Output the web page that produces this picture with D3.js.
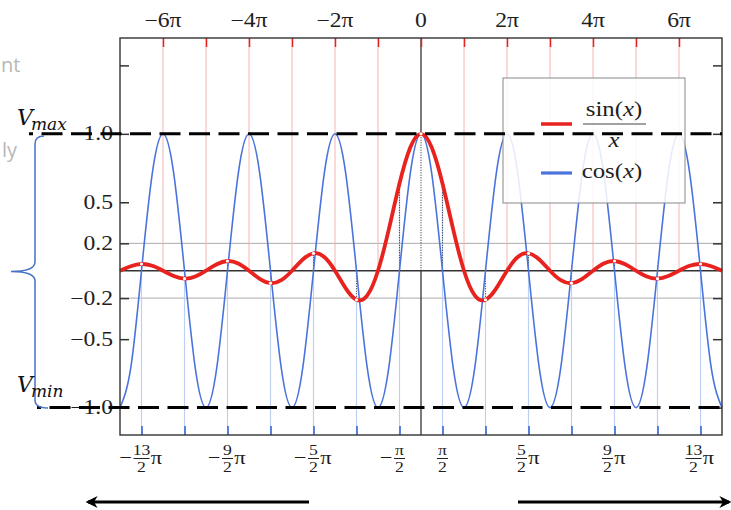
<!DOCTYPE html>
<html lang="en">
<head>
<meta charset="UTF-8">
<title>sin(x)/x and cos(x)</title>
<style>
  body { margin: 0; background: #fff; }
  text { font-family: "Liberation Serif", "DejaVu Serif", serif; fill: #1e1e1e; }
</style>
</head>
<body>
<svg id="chart" width="731" height="510"></svg>
<script src="https://d3js.org/d3.v7.min.js"></script>
<script>
// sample positions, in quarters of pi (-7pi .. 7pi)
const quarterSteps = d3.range(-28, 29);

// cos(x) read at every quarter pi
const cosValues = [
  -1, -0.71, 0, 0.71, 1, 0.71, 0, -0.71,
  -1, -0.71, 0, 0.71, 1, 0.71, 0, -0.71,
  -1, -0.71, 0, 0.71, 1, 0.71, 0, -0.71,
  -1, -0.71, 0, 0.71, 1, 0.71, 0, -0.71,
  -1, -0.71, 0, 0.71, 1, 0.71, 0, -0.71,
  -1, -0.71, 0, 0.71, 1, 0.71, 0, -0.71,
  -1, -0.71, 0, 0.71, 1, 0.71, 0, -0.71,
  -1
];

// sin(x)/x read at every quarter pi
const sincValues = [
  0, 0.033, 0.049, 0.036,
  0, -0.039, -0.058, -0.043,
  0, 0.047, 0.071, 0.053,
  0, -0.060, -0.091, -0.069,
  0, 0.082, 0.127, 0.100,
  0, -0.129, -0.212, -0.180,
  0, 0.300, 0.637, 0.900,
  1,
  0.900, 0.637, 0.300, 0,
  -0.180, -0.212, -0.129, 0,
  0.100, 0.127, 0.082, 0,
  -0.069, -0.091, -0.060, 0,
  0.053, 0.071, 0.047, 0,
  -0.043, -0.058, -0.039, 0,
  0.036, 0.049, 0.033, 0
];

// top axis: ticks at every pi, labels at even multiples (units of pi)
const piTicks = [-6, -5, -4, -3, -2, -1, 0, 1, 2, 3, 4, 5, 6];
const topLabelPos = [-6, -4, -2, 0, 2, 4, 6];
const topLabels = ["\u22126\u03c0", "\u22124\u03c0", "\u22122\u03c0", "0", "2\u03c0", "4\u03c0", "6\u03c0"];

// bottom axis: ticks at half-integer multiples of pi
const halfPiTicks = [-6.5, -5.5, -4.5, -3.5, -2.5, -1.5, -0.5, 0.5, 1.5, 2.5, 3.5, 4.5, 5.5, 6.5];
const bottomLabelPos = [-6.5, -4.5, -2.5, -0.5, 0.5, 2.5, 4.5, 6.5];
const bottomLabelNum = ["13", "9", "5", "\u03c0", "\u03c0", "5", "9", "13"];

// y axis
const yTicks = [1.5, 1.0, 0.5, 0.2, -0.2, -0.5, -1.0];
const yTickLabels = ["", "1.0", "0.5", "0.2", "\u22120.2", "\u22120.5", "\u22121.0"];
const gridLevels = [0.2, -0.2];
const limitLevels = [1, -1];

const RED = "#e8231f", BLUE = "#4a74dc";
const pl = 120, pr = 722, pt = 38, pb = 435;
const sx = 1.18; // glyphs in the picture are a little wide

const svg = d3.select("#chart");
const x = d3.scaleLinear().domain([-7, 7]).range([pl, pr]);
const y = d3.scaleLinear().domain([-1.2, 1.7]).range([pb, pt]);

function wideText(g, px, py, txt, size, anchor) {
  return g.append("text")
    .attr("transform", "translate(" + px + "," + py + ") scale(" + sx + ",1)")
    .attr("text-anchor", anchor || "middle")
    .attr("font-size", size)
    .text(txt);
}

const sincAt = h => sincValues[quarterSteps.indexOf(h * 4)];

// grid
const grid = svg.append("g");
grid.selectAll(".hg").data(gridLevels).enter().append("line")
  .attr("x1", pl).attr("x2", pr)
  .attr("y1", d => y(d)).attr("y2", d => y(d))
  .attr("stroke", "#aaa").attr("stroke-width", 1);

grid.selectAll(".rv").data(piTicks.filter(d => d !== 0)).enter().append("line")
  .attr("x1", d => x(d)).attr("x2", d => x(d))
  .attr("y1", pt).attr("y2", y(0))
  .attr("stroke", "#f3b4b2").attr("stroke-width", 1);

grid.selectAll(".bv").data(halfPiTicks).enter().append("line")
  .attr("x1", d => x(d)).attr("x2", d => x(d))
  .attr("y1", pb).attr("y2", d => y(sincAt(d)))
  .attr("stroke", "#bcd0f6").attr("stroke-width", 1.2);

grid.append("line")
  .attr("x1", pl).attr("x2", pr).attr("y1", y(0)).attr("y2", y(0))
  .attr("stroke", "#333").attr("stroke-width", 1.5);
grid.append("line")
  .attr("x1", x(0)).attr("x2", x(0)).attr("y1", pt).attr("y2", y(1))
  .attr("stroke", "#333").attr("stroke-width", 1.3);
grid.append("line")
  .attr("x1", x(0)).attr("x2", x(0)).attr("y1", y(0)).attr("y2", pb)
  .attr("stroke", "#333").attr("stroke-width", 1.3);

// dotted drops from the sinc curve to zero
grid.selectAll(".dot").data(halfPiTicks.concat([0])).enter().append("line")
  .attr("x1", d => x(d)).attr("x2", d => x(d))
  .attr("y1", y(0)).attr("y2", d => y(sincAt(d)))
  .attr("stroke", "#333").attr("stroke-width", 1.1).attr("stroke-dasharray", "1,1.5");

// curves
const line = d3.line()
  .x((d, i) => x(quarterSteps[i] / 4))
  .y(d => y(d))
  .curve(d3.curveNatural);

svg.append("path").datum(cosValues)
  .attr("d", line).attr("fill", "none")
  .attr("stroke", BLUE).attr("stroke-width", 1.6);

svg.append("path").datum(sincValues)
  .attr("d", line).attr("fill", "none")
  .attr("stroke", RED).attr("stroke-width", 3.8);

svg.append("g").selectAll("circle")
  .data(halfPiTicks.filter(d => Math.abs(d) > 1).concat([0])).enter().append("circle")
  .attr("cx", d => x(d)).attr("cy", d => y(sincAt(d)))
  .attr("r", 1.6).attr("fill", "#fff");

// axes (ticks point inward)
const topAxis = svg.append("g").attr("transform", "translate(0," + pt + ")")
  .call(d3.axisTop(x).tickValues(piTicks).tickSize(-9).tickFormat(""));
topAxis.selectAll("line").attr("stroke", RED).attr("stroke-width", 1.5);

const bottomAxis = svg.append("g").attr("transform", "translate(0," + pb + ")")
  .call(d3.axisBottom(x).tickValues(halfPiTicks).tickSize(-9).tickFormat(""));
bottomAxis.selectAll("line").attr("stroke", BLUE).attr("stroke-width", 1.8);

const leftAxis = svg.append("g").attr("transform", "translate(" + pl + ",0)")
  .call(d3.axisLeft(y).tickValues(yTicks).tickSize(-9).tickFormat(""));
const rightAxis = svg.append("g").attr("transform", "translate(" + pr + ",0)")
  .call(d3.axisRight(y).tickValues(yTicks).tickSize(-9).tickFormat(""));
[topAxis, bottomAxis, leftAxis, rightAxis].forEach(a => a.select(".domain").remove());
[leftAxis, rightAxis].forEach(a => a.selectAll("line").attr("stroke", "#333").attr("stroke-width", 1.5));

svg.append("rect")
  .attr("x", pl).attr("y", pt).attr("width", pr - pl).attr("height", pb - pt)
  .attr("fill", "none").attr("stroke", "#333").attr("stroke-width", 1.4);

// tick labels
const labels = svg.append("g");
topLabelPos.forEach((p, i) => wideText(labels, x(p), 27, topLabels[i], 20));
yTicks.forEach((v, i) => {
  if (yTickLabels[i]) wideText(labels, 113, y(v) + 6.5, yTickLabels[i], 20, "end");
});

bottomLabelPos.forEach((p, i) => {
  const num = bottomLabelNum[i];
  const neg = p < 0, hasPi = num !== "\u03c0";
  const fw = num.length > 1 ? 14 : 9;
  const total = (neg ? 14 : 0) + fw + (hasPi ? 14 : 0);
  let fc = hasPi ? x(p) - total / 2 + (neg ? 14 : 0) + fw / 2 : x(p);
  const g = labels.append("g");
  if (neg) wideText(g, fc - fw / 2 - 9, 464, "\u2212", 19);
  wideText(g, fc, 455, num, 15);
  g.append("line").attr("x1", fc - fw / 2 - 1).attr("x2", fc + fw / 2 + 1)
    .attr("y1", 458.5).attr("y2", 458.5).attr("stroke", "#222").attr("stroke-width", 1);
  wideText(g, fc, 472, "2", 15);
  if (hasPi) wideText(g, fc + fw / 2 + 8, 464, "\u03c0", 19);
});

// legend
const lg = svg.append("g");
lg.append("rect").attr("x", 503).attr("y", 78).attr("width", 182).attr("height", 125)
  .attr("fill", "#fff").attr("fill-opacity", 0.86).attr("stroke", "#888").attr("stroke-width", 1);
lg.append("line").attr("x1", 541).attr("x2", 572).attr("y1", 124).attr("y2", 124)
  .attr("stroke", RED).attr("stroke-width", 3.5);
lg.append("line").attr("x1", 541).attr("x2", 572).attr("y1", 173).attr("y2", 173)
  .attr("stroke", BLUE).attr("stroke-width", 3.2);
const sinT = lg.append("text")
  .attr("transform", "translate(614,116) scale(" + sx + ",1)")
  .attr("text-anchor", "middle").attr("font-size", 21);
sinT.append("tspan").text("sin(");
sinT.append("tspan").attr("font-style", "italic").text("x");
sinT.append("tspan").text(")");
lg.append("line").attr("x1", 583).attr("x2", 646).attr("y1", 124).attr("y2", 124)
  .attr("stroke", "#444").attr("stroke-width", 1);
wideText(lg, 614, 147, "x", 21).attr("font-style", "italic");
const cosT = lg.append("text")
  .attr("transform", "translate(612,178) scale(" + sx + ",1)")
  .attr("text-anchor", "middle").attr("font-size", 21);
cosT.append("tspan").text("cos(");
cosT.append("tspan").attr("font-style", "italic").text("x");
cosT.append("tspan").text(")");

// Vmax / Vmin limit lines
svg.selectAll(".lim").data(limitLevels).enter().append("line")
  .attr("x1", d => d > 0 ? 29 : 37).attr("x2", pr)
  .attr("y1", d => y(d)).attr("y2", d => y(d))
  .attr("stroke", "#000").attr("stroke-width", 3)
  .attr("stroke-dasharray", "21,8.5").attr("stroke-dashoffset", 17);

// brace
svg.append("path")
  .attr("d", "M44,136 Q35,136 35,144 L35,262 Q35,271.5 11,271.5 Q35,271.5 35,281 L35,400 Q35,408 48,408")
  .attr("fill", "none").attr("stroke", "#4472c4").attr("stroke-width", 1.5);

function vLabel(px, py, sub) {
  const t = svg.append("text").attr("x", px).attr("y", py)
    .style("font-family", "'DejaVu Serif', serif").attr("font-style", "italic")
    .attr("font-size", 22).style("fill", "#111");
  t.append("tspan").text("V");
  t.append("tspan").attr("font-size", 17).attr("dy", 5).attr("dx", -2).text(sub);
}
vLabel(17, 125, "max");
vLabel(17, 392, "min");

// faded text at the page edge
svg.append("text").attr("x", 1).attr("y", 72)
  .style("font-family", "'Open Sans', sans-serif").style("fill", "#b8b8b8").attr("font-size", 20).text("nt");
svg.append("text").attr("x", 2).attr("y", 157)
  .style("font-family", "'Open Sans', sans-serif").style("fill", "#b8b8b8").attr("font-size", 20).text("ly");

// arrows
const defs = svg.append("defs");
defs.append("marker").attr("id", "head").attr("viewBox", "0 0 10 10")
  .attr("refX", 8).attr("refY", 5).attr("markerWidth", 4).attr("markerHeight", 4)
  .attr("orient", "auto-start-reverse")
  .append("path").attr("d", "M0,0 L10,5 L0,10 L3,5 Z").attr("fill", "#000");
svg.append("line").attr("x1", 309).attr("x2", 88).attr("y1", 502).attr("y2", 502)
  .attr("stroke", "#000").attr("stroke-width", 3).attr("marker-end", "url(#head)");
svg.append("line").attr("x1", 518).attr("x2", 729).attr("y1", 502).attr("y2", 502)
  .attr("stroke", "#000").attr("stroke-width", 3).attr("marker-end", "url(#head)");
</script>
</body>
</html>
